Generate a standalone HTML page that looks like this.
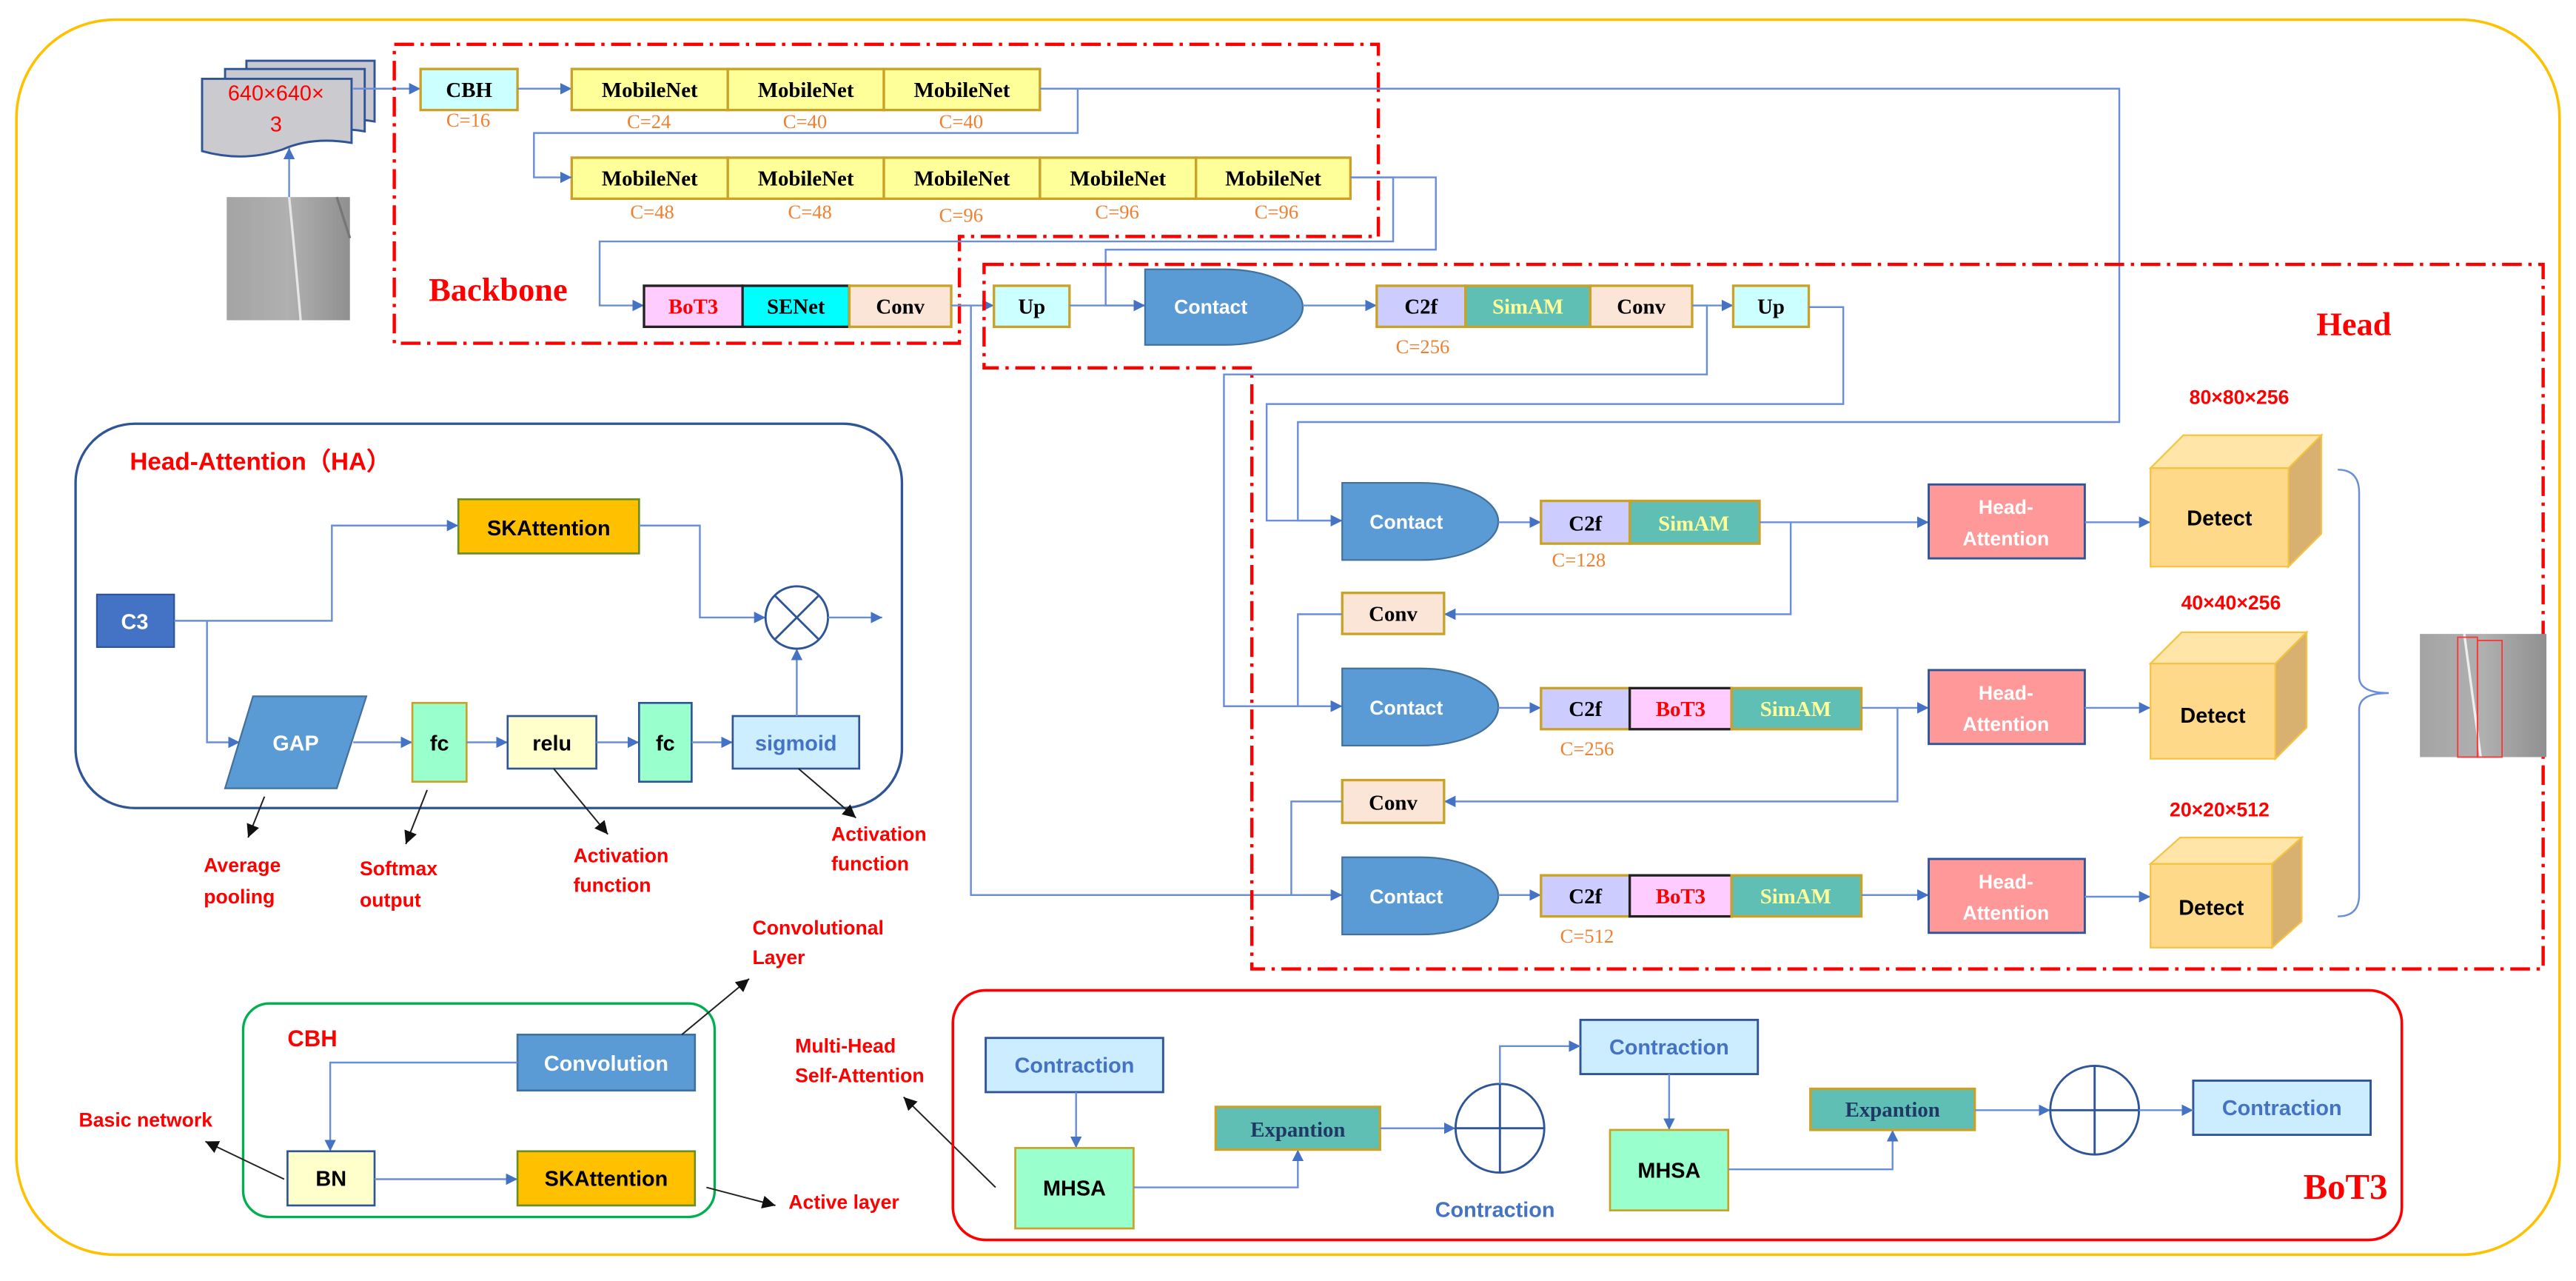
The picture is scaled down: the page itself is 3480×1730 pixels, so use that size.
<!DOCTYPE html>
<html><head><meta charset="utf-8"><style>
html,body{margin:0;padding:0;background:#fff;width:3480px;height:1730px;overflow:hidden}
svg{display:block}
.s{font-family:"Liberation Serif",serif;font-weight:bold}
.a{font-family:"Liberation Sans",sans-serif;font-weight:bold}
.ln{fill:none;stroke:#6A8FD8;stroke-width:1.1}
.ann{fill:none;stroke:#222;stroke-width:0.9}
.dash{fill:none;stroke:#F00;stroke-width:2;stroke-dasharray:12,4,2,4}
.c{fill:#F08030;font-family:"Liberation Serif",serif;font-size:12px}
.r{fill:#F00;font-family:"Liberation Sans",sans-serif;font-weight:bold}
</style></head><body>
<svg width="3480" height="1730" viewBox="0 0 1568 780" preserveAspectRatio="none" xmlns="http://www.w3.org/2000/svg">
<defs>
<marker id="a" viewBox="0 0 10 10" refX="10" refY="5" markerWidth="7" markerHeight="7" markerUnits="userSpaceOnUse" orient="auto"><path d="M0,0L10,5L0,10z" fill="#4472C4"/></marker>
<marker id="k" viewBox="0 0 10 10" refX="10" refY="5" markerWidth="8" markerHeight="8" markerUnits="userSpaceOnUse" orient="auto"><path d="M0,0L10,5L0,10z" fill="#111"/></marker>
<linearGradient id="road" x1="0" y1="0" x2="1" y2="0"><stop offset="0" stop-color="#a4a4a4"/><stop offset="0.5" stop-color="#b0b0b0"/><stop offset="1" stop-color="#909090"/></linearGradient>
</defs>
<rect x="10" y="12" width="1548" height="752" rx="60" fill="none" stroke="#FFC000" stroke-width="1.6"/>

<!-- Input -->
<path d="M150,37 H228 V74 Q205,70 190,78 Q170,86 150,80 Z" fill="#C8C8D0" stroke="#2F5597" stroke-width="1.3"/>
<path d="M137,42 H222 V80 Q198,76 182,84 Q160,92 137,86 Z" fill="#C8C8D0" stroke="#2F5597" stroke-width="1.3"/>
<path d="M123,48 H214 V87 Q190,83 172,91 Q148,99 123,92 Z" fill="#CACACF" stroke="#2F5597" stroke-width="1.3"/>
<text x="168" y="61" text-anchor="middle" fill="#F00" font-family="Liberation Sans,sans-serif" font-size="13">640×640×</text>
<text x="168" y="80" text-anchor="middle" fill="#F00" font-family="Liberation Sans,sans-serif" font-size="13">3</text>
<rect x="138" y="120" width="75" height="75" fill="url(#road)"/>
<path d="M176,120 Q180,160 183,195" stroke="#e6e6e6" stroke-width="1.5" fill="none"/>
<path d="M205,120 L213,145" stroke="#777" stroke-width="1.5" fill="none"/>
<line x1="176" y1="120" x2="176" y2="90" class="ln" marker-end="url(#a)"/>
<line x1="215" y1="54" x2="256" y2="54" class="ln" marker-end="url(#a)"/>

<!-- Backbone -->
<path d="M240,27 H839 V144 H584 V209 H240 Z" class="dash"/>
<rect x="256" y="42" width="59" height="25" fill="#CCFFFF" stroke="#C9A227" stroke-width="1.5"/>
<text x="285.5" y="59" text-anchor="middle" class="s" font-size="13">CBH</text>
<text x="285" y="77" text-anchor="middle" class="c">C=16</text>
<line x1="315" y1="54" x2="348" y2="54" class="ln" marker-end="url(#a)"/>
<g stroke="#C9A227" stroke-width="1.5" fill="#FFFF99">
<rect x="348" y="42" width="95" height="25"/><rect x="443" y="42" width="95" height="25"/><rect x="538" y="42" width="95" height="25"/>
<rect x="348" y="96" width="95" height="25"/><rect x="443" y="96" width="95" height="25"/><rect x="538" y="96" width="95" height="25"/><rect x="633" y="96" width="95" height="25"/><rect x="728" y="96" width="94" height="25"/>
</g>
<g class="s" font-size="13" text-anchor="middle">
<text x="395.5" y="59">MobileNet</text><text x="490.5" y="59">MobileNet</text><text x="585.5" y="59">MobileNet</text>
<text x="395.5" y="113">MobileNet</text><text x="490.5" y="113">MobileNet</text><text x="585.5" y="113">MobileNet</text><text x="680.5" y="113">MobileNet</text><text x="775" y="113">MobileNet</text>
</g>
<g class="c" text-anchor="middle">
<text x="395" y="78">C=24</text><text x="490" y="78">C=40</text><text x="585" y="78">C=40</text>
<text x="397" y="133">C=48</text><text x="493" y="133">C=48</text><text x="585" y="135">C=96</text><text x="680" y="133">C=96</text><text x="777" y="133">C=96</text>
</g>
<polyline points="633,54 656,54 656,81 325,81 325,108 348,108" class="ln" marker-end="url(#a)"/>
<polyline points="633,54 1290,54 1290,257 790,257 790,317 817,317" class="ln" marker-end="url(#a)"/>
<polyline points="822,108 848,108 848,147 365,147 365,186 392,186" class="ln" marker-end="url(#a)"/>
<polyline points="822,108 874,108 874,152 673,152 673,186 697,186" class="ln" marker-end="url(#a)"/>
<text x="261" y="183" class="s" font-size="20" fill="#F00">Backbone</text>
<rect x="392" y="174" width="60" height="25" fill="#FFCCFF" stroke="#222" stroke-width="1.5"/>
<rect x="452" y="174" width="65" height="25" fill="#00FFFF" stroke="#222" stroke-width="1.5"/>
<rect x="517" y="174" width="62" height="25" fill="#FBE5D6" stroke="#C9A227" stroke-width="1.5"/>
<text x="422" y="191" text-anchor="middle" class="s" font-size="13" fill="#F00">BoT3</text>
<text x="484.5" y="191" text-anchor="middle" class="s" font-size="13">SENet</text>
<text x="548" y="191" text-anchor="middle" class="s" font-size="13">Conv</text>
<line x1="579" y1="186" x2="605" y2="186" class="ln" marker-end="url(#a)"/>
<polyline points="591,186 591,545 817,545" class="ln" marker-end="url(#a)"/>

<!-- Head -->
<path d="M599,161 H1548 V590 H762 V224 H599 Z" class="dash"/>
<text x="1410" y="204" class="s" font-size="20" fill="#F00">Head</text>
<rect x="605" y="174" width="46" height="25" fill="#CCFFFF" stroke="#C9A227" stroke-width="1.5"/>
<text x="628" y="191" text-anchor="middle" class="s" font-size="13">Up</text>
<line x1="651" y1="186" x2="697" y2="186" class="ln" marker-end="url(#a)"/>
<path d="M697,164 H746 A47,23 0 0 1 746,210 H697 Z" fill="#5B9BD5" stroke="#41719C" stroke-width="1"/>
<text x="737" y="191" text-anchor="middle" class="a" font-size="12" fill="#fff">Contact</text>
<line x1="793" y1="186" x2="838" y2="186" class="ln" marker-end="url(#a)"/>
<rect x="838" y="174" width="54" height="25" fill="#CCCCFF" stroke="#C9A227" stroke-width="1.5"/>
<rect x="892" y="174" width="76" height="25" fill="#5FBFB5" stroke="#C9A227" stroke-width="1.5"/>
<rect x="968" y="174" width="62" height="25" fill="#FBE5D6" stroke="#C9A227" stroke-width="1.5"/>
<text x="865" y="191" text-anchor="middle" class="s" font-size="13">C2f</text>
<text x="930" y="191" text-anchor="middle" class="s" font-size="13" fill="#FFFF99">SimAM</text>
<text x="999" y="191" text-anchor="middle" class="s" font-size="13">Conv</text>
<text x="866" y="215" text-anchor="middle" class="c">C=256</text>
<line x1="1030" y1="186" x2="1055" y2="186" class="ln" marker-end="url(#a)"/>
<rect x="1055" y="174" width="46" height="25" fill="#CCFFFF" stroke="#C9A227" stroke-width="1.5"/>
<text x="1078" y="191" text-anchor="middle" class="s" font-size="13">Up</text>
<polyline points="1101,187 1122,187 1122,246 771,246 771,317 817,317" class="ln" marker-end="url(#a)"/>
<polyline points="1030,186 1039,186 1039,228 745,228 745,430 817,430" class="ln" marker-end="url(#a)"/>

<!-- rows -->
<g>
<path d="M817,294 H865 A47,23.5 0 0 1 865,341 H817 Z" fill="#5B9BD5" stroke="#41719C"/>
<text x="856" y="322" text-anchor="middle" class="a" font-size="12" fill="#fff">Contact</text>
<line x1="912" y1="318" x2="938" y2="318" class="ln" marker-end="url(#a)"/>
<rect x="938" y="305" width="54" height="26" fill="#CCCCFF" stroke="#C9A227" stroke-width="1.5"/>
<rect x="992" y="305" width="79" height="26" fill="#5FBFB5" stroke="#C9A227" stroke-width="1.5"/>
<text x="965" y="323" text-anchor="middle" class="s" font-size="13">C2f</text>
<text x="1031" y="323" text-anchor="middle" class="s" font-size="13" fill="#FFFF99">SimAM</text>
<text x="961" y="345" text-anchor="middle" class="c">C=128</text>
<line x1="1071" y1="318" x2="1174" y2="318" class="ln" marker-end="url(#a)"/>
<polyline points="1090,318 1090,374 879,374" class="ln" marker-end="url(#a)"/>
<rect x="817" y="361" width="62" height="25" fill="#FBE5D6" stroke="#C9A227" stroke-width="1.5"/>
<text x="848" y="378" text-anchor="middle" class="s" font-size="13">Conv</text>
<polyline points="817,374 790,374 790,430 817,430" class="ln" marker-end="url(#a)"/>

<path d="M817,407 H865 A47,23.5 0 0 1 865,454 H817 Z" fill="#5B9BD5" stroke="#41719C"/>
<text x="856" y="435" text-anchor="middle" class="a" font-size="12" fill="#fff">Contact</text>
<line x1="912" y1="431" x2="938" y2="431" class="ln" marker-end="url(#a)"/>
<rect x="938" y="419" width="54" height="25" fill="#CCCCFF" stroke="#C9A227" stroke-width="1.5"/>
<rect x="992" y="419" width="62" height="25" fill="#FFCCFF" stroke="#222" stroke-width="1.5"/>
<rect x="1054" y="419" width="79" height="25" fill="#5FBFB5" stroke="#C9A227" stroke-width="1.5"/>
<text x="965" y="436" text-anchor="middle" class="s" font-size="13">C2f</text>
<text x="1023" y="436" text-anchor="middle" class="s" font-size="13" fill="#F00">BoT3</text>
<text x="1093" y="436" text-anchor="middle" class="s" font-size="13" fill="#FFFF99">SimAM</text>
<text x="966" y="460" text-anchor="middle" class="c">C=256</text>
<line x1="1133" y1="431" x2="1174" y2="431" class="ln" marker-end="url(#a)"/>
<polyline points="1155,431 1155,488 879,488" class="ln" marker-end="url(#a)"/>
<rect x="817" y="475" width="62" height="26" fill="#FBE5D6" stroke="#C9A227" stroke-width="1.5"/>
<text x="848" y="493" text-anchor="middle" class="s" font-size="13">Conv</text>
<polyline points="817,488 786,488 786,545 817,545" class="ln" marker-end="url(#a)"/>

<path d="M817,522 H865 A47,23.5 0 0 1 865,569 H817 Z" fill="#5B9BD5" stroke="#41719C"/>
<text x="856" y="550" text-anchor="middle" class="a" font-size="12" fill="#fff">Contact</text>
<line x1="912" y1="545" x2="938" y2="545" class="ln" marker-end="url(#a)"/>
<rect x="938" y="533" width="54" height="25" fill="#CCCCFF" stroke="#C9A227" stroke-width="1.5"/>
<rect x="992" y="533" width="62" height="25" fill="#FFCCFF" stroke="#222" stroke-width="1.5"/>
<rect x="1054" y="533" width="79" height="25" fill="#5FBFB5" stroke="#C9A227" stroke-width="1.5"/>
<text x="965" y="550" text-anchor="middle" class="s" font-size="13">C2f</text>
<text x="1023" y="550" text-anchor="middle" class="s" font-size="13" fill="#F00">BoT3</text>
<text x="1093" y="550" text-anchor="middle" class="s" font-size="13" fill="#FFFF99">SimAM</text>
<text x="966" y="574" text-anchor="middle" class="c">C=512</text>
<line x1="1133" y1="545" x2="1174" y2="545" class="ln" marker-end="url(#a)"/>
</g>

<!-- Head-Attention boxes -->
<g>
<rect x="1174" y="295" width="95" height="45" fill="#FF9999" stroke="#2F5597" stroke-width="1.3"/>
<rect x="1174" y="408" width="95" height="45" fill="#FF9999" stroke="#2F5597" stroke-width="1.3"/>
<rect x="1174" y="523" width="95" height="45" fill="#FF9999" stroke="#2F5597" stroke-width="1.3"/>
<g class="a" font-size="12" fill="#fff" text-anchor="middle">
<text x="1221" y="313">Head-</text><text x="1221" y="332">Attention</text>
<text x="1221" y="426">Head-</text><text x="1221" y="445">Attention</text>
<text x="1221" y="541">Head-</text><text x="1221" y="560">Attention</text>
</g>
<line x1="1269" y1="318" x2="1309" y2="318" class="ln" marker-end="url(#a)"/>
<line x1="1269" y1="431" x2="1309" y2="431" class="ln" marker-end="url(#a)"/>
<line x1="1269" y1="546" x2="1309" y2="546" class="ln" marker-end="url(#a)"/>
</g>
<!-- Detect cubes -->
<g stroke="#F5C242" stroke-width="1">
<rect x="1309" y="285" width="84" height="60" fill="#FFD98A"/>
<polygon points="1309,285 1329,265 1413,265 1393,285" fill="#FFE6A8"/>
<polygon points="1393,285 1413,265 1413,325 1393,345" fill="#D8B070"/>
<rect x="1309" y="404" width="76" height="58" fill="#FFD98A"/>
<polygon points="1309,404 1328,385 1404,385 1385,404" fill="#FFE6A8"/>
<polygon points="1385,404 1404,385 1404,443 1385,462" fill="#D8B070"/>
<rect x="1309" y="526" width="74" height="51" fill="#FFD98A"/>
<polygon points="1309,526 1327,510 1401,510 1383,526" fill="#FFE6A8"/>
<polygon points="1383,526 1401,510 1401,561 1383,577" fill="#D8B070"/>
</g>
<g class="a" font-size="13" text-anchor="middle">
<text x="1351" y="320">Detect</text><text x="1347" y="440">Detect</text><text x="1346" y="557">Detect</text>
</g>
<g class="r" font-size="12" text-anchor="middle">
<text x="1363" y="246">80×80×256</text><text x="1358" y="371">40×40×256</text><text x="1351" y="497">20×20×512</text>
</g>
<path d="M1423,286 Q1436,286 1436,300 V412 Q1436,422 1454,422 Q1436,422 1436,432 V545 Q1436,558 1423,558" fill="none" stroke="#6A8FD8" stroke-width="1.1"/>
<rect x="1473" y="386" width="77" height="75" fill="url(#road)"/>
<path d="M1500,386 L1510,461" stroke="#eee" stroke-width="1.5"/>
<rect x="1496" y="388" width="12" height="73" fill="none" stroke="#F33" stroke-width="0.8"/>
<rect x="1508" y="390" width="15" height="71" fill="none" stroke="#F33" stroke-width="0.8"/>

<!-- HA panel -->
<rect x="46" y="258" width="503" height="234" rx="36" fill="none" stroke="#2F5597" stroke-width="1.5"/>
<text x="79" y="286" class="r" font-size="15">Head-Attention（HA）</text>
<rect x="279" y="304" width="110" height="33" fill="#FFC000" stroke="#6B8E23" stroke-width="1.2"/>
<text x="334" y="326" text-anchor="middle" class="a" font-size="13">SKAttention</text>
<rect x="59" y="362" width="47" height="32" fill="#4472C4" stroke="#2F5597"/>
<text x="82" y="383" text-anchor="middle" class="a" font-size="13" fill="#fff">C3</text>
<polyline points="106,378 202,378 202,320 279,320" class="ln" marker-end="url(#a)"/>
<polyline points="126,378 126,452 146,452" class="ln" marker-end="url(#a)"/>
<polygon points="154,424 223,424 205,480 137,480" fill="#5B9BD5" stroke="#41719C"/>
<text x="180" y="457" text-anchor="middle" class="a" font-size="13" fill="#fff">GAP</text>
<line x1="215" y1="452" x2="251" y2="452" class="ln" marker-end="url(#a)"/>
<rect x="251" y="428" width="33" height="48" fill="#99FFCC" stroke="#C9A227" stroke-width="1.2"/>
<text x="267.5" y="457" text-anchor="middle" class="a" font-size="13">fc</text>
<line x1="284" y1="452" x2="309" y2="452" class="ln" marker-end="url(#a)"/>
<rect x="309" y="436" width="54" height="32" fill="#FFFFCC" stroke="#2F5597" stroke-width="1.2"/>
<text x="336" y="457" text-anchor="middle" class="a" font-size="13">relu</text>
<line x1="363" y1="452" x2="389" y2="452" class="ln" marker-end="url(#a)"/>
<rect x="389" y="428" width="32" height="48" fill="#99FFCC" stroke="#2F5597" stroke-width="1.2"/>
<text x="405" y="457" text-anchor="middle" class="a" font-size="13">fc</text>
<line x1="421" y1="452" x2="446" y2="452" class="ln" marker-end="url(#a)"/>
<rect x="446" y="436" width="77" height="32" fill="#CCEEFF" stroke="#2F5597" stroke-width="1.2"/>
<text x="484.5" y="457" text-anchor="middle" class="a" font-size="13" fill="#4472C4">sigmoid</text>
<line x1="485" y1="436" x2="485" y2="395" class="ln" marker-end="url(#a)"/>
<polyline points="389,320 426,320 426,376 466,376" class="ln" marker-end="url(#a)"/>
<circle cx="485" cy="376" r="19" fill="#fff" stroke="#2F5597" stroke-width="1.3"/>
<path d="M472,363 L498,389 M498,363 L472,389" stroke="#2F5597" stroke-width="1.3"/>
<line x1="504" y1="376" x2="537" y2="376" class="ln" marker-end="url(#a)"/>
<line x1="161" y1="485" x2="151" y2="510" class="ann" marker-end="url(#k)"/>
<line x1="260" y1="481" x2="247" y2="514" class="ann" marker-end="url(#k)"/>
<line x1="337" y1="468" x2="370" y2="508" class="ann" marker-end="url(#k)"/>
<line x1="486" y1="468" x2="521" y2="498" class="ann" marker-end="url(#k)"/>
<g class="r" font-size="12">
<text x="124" y="531">Average</text><text x="124" y="550">pooling</text>
<text x="219" y="533">Softmax</text><text x="219" y="552">output</text>
<text x="349" y="525">Activation</text><text x="349" y="543">function</text>
<text x="506" y="512">Activation</text><text x="506" y="530">function</text>
</g>

<!-- CBH panel -->
<rect x="148" y="611" width="287" height="130" rx="16" fill="none" stroke="#00B050" stroke-width="1.5"/>
<text x="175" y="637" class="r" font-size="14">CBH</text>
<rect x="315" y="630" width="108" height="34" fill="#5B9BD5" stroke="#41719C" stroke-width="1.2"/>
<text x="369" y="652" text-anchor="middle" class="a" font-size="13" fill="#fff">Convolution</text>
<polyline points="315,647 201,647 201,701" class="ln" marker-end="url(#a)"/>
<rect x="175" y="701" width="53" height="33" fill="#FFFFCC" stroke="#2F5597" stroke-width="1.2"/>
<text x="201.5" y="722" text-anchor="middle" class="a" font-size="13">BN</text>
<line x1="228" y1="718" x2="315" y2="718" class="ln" marker-end="url(#a)"/>
<rect x="315" y="701" width="108" height="33" fill="#FFC000" stroke="#6B8E23" stroke-width="1.2"/>
<text x="369" y="722" text-anchor="middle" class="a" font-size="13">SKAttention</text>
<line x1="415" y1="630" x2="456" y2="596" class="ann" marker-end="url(#k)"/>
<line x1="173" y1="718" x2="125" y2="695" class="ann" marker-end="url(#k)"/>
<line x1="430" y1="723" x2="472" y2="734" class="ann" marker-end="url(#k)"/>
<line x1="606" y1="723" x2="550" y2="668" class="ann" marker-end="url(#k)"/>
<g class="r" font-size="12">
<text x="458" y="569">Convolutional</text><text x="458" y="587">Layer</text>
<text x="48" y="686">Basic network</text>
<text x="480" y="736">Active layer</text>
<text x="484" y="641">Multi-Head</text><text x="484" y="659">Self-Attention</text>
</g>

<!-- BoT3 panel -->
<rect x="580" y="603" width="882" height="152" rx="20" fill="none" stroke="#F00" stroke-width="1.6"/>
<text x="1402" y="730" class="s" font-size="22" fill="#F00">BoT3</text>
<g stroke="#2F5597" stroke-width="1.3" fill="#CCECFF">
<rect x="600" y="632" width="108" height="33"/><rect x="962" y="621" width="108" height="33"/><rect x="1335" y="658" width="108" height="33"/>
</g>
<g class="a" font-size="13" fill="#4472C4" text-anchor="middle">
<text x="654" y="653">Contraction</text><text x="1016" y="642">Contraction</text><text x="1389" y="679">Contraction</text>
<text x="910" y="741">Contraction</text>
</g>
<line x1="655" y1="665" x2="655" y2="699" class="ln" marker-end="url(#a)"/>
<rect x="618" y="699" width="72" height="49" fill="#99FFCC" stroke="#C9A227" stroke-width="1.2"/>
<text x="654" y="728" text-anchor="middle" class="a" font-size="13">MHSA</text>
<polyline points="690,723 790,723 790,700" class="ln" marker-end="url(#a)"/>
<rect x="740" y="674" width="100" height="26" fill="#5FBFB5" stroke="#C9A227" stroke-width="1.5"/>
<text x="790" y="692" text-anchor="middle" class="s" font-size="13" fill="#1F3864">Expantion</text>
<line x1="840" y1="687" x2="886" y2="687" class="ln" marker-end="url(#a)"/>
<circle cx="913" cy="687" r="27" fill="#fff" stroke="#2F5597" stroke-width="1.3"/>
<path d="M886,687 H940 M913,660 V714" stroke="#2F5597" stroke-width="1.3"/>
<polyline points="913,660 913,637 962,637" class="ln" marker-end="url(#a)"/>
<line x1="1016" y1="654" x2="1016" y2="688" class="ln" marker-end="url(#a)"/>
<rect x="980" y="688" width="72" height="49" fill="#99FFCC" stroke="#C9A227" stroke-width="1.2"/>
<text x="1016" y="717" text-anchor="middle" class="a" font-size="13">MHSA</text>
<polyline points="1052,712 1152,712 1152,688" class="ln" marker-end="url(#a)"/>
<rect x="1102" y="663" width="100" height="25" fill="#5FBFB5" stroke="#C9A227" stroke-width="1.5"/>
<text x="1152" y="680" text-anchor="middle" class="s" font-size="13" fill="#1F3864">Expantion</text>
<line x1="1202" y1="676" x2="1248" y2="676" class="ln" marker-end="url(#a)"/>
<circle cx="1275" cy="676" r="27" fill="#fff" stroke="#2F5597" stroke-width="1.3"/>
<path d="M1248,676 H1302 M1275,649 V703" stroke="#2F5597" stroke-width="1.3"/>
<line x1="1302" y1="676" x2="1335" y2="676" class="ln" marker-end="url(#a)"/>
</svg>
</body></html>
